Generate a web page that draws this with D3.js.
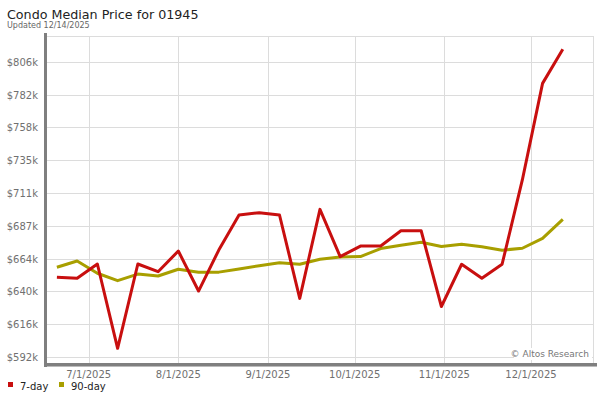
<!DOCTYPE html>
<html><head><meta charset="utf-8">
<script src="https://cdn.jsdelivr.net/npm/d3@7/dist/d3.min.js"></script>
<style>body{margin:0;background:#fff;}svg{display:block;font-family:"DejaVu Sans",Verdana,sans-serif;}</style>
</head><body><svg id="c" width="600" height="400"></svg>
<script>
const startDate = "2025-06-20";
const weeks = 26;
const sevenDay = [650.2,649.4,659.8,598.7,659.8,654.2,669.2,640.2,669.9,695.3,697.0,695.3,634.9,699.4,665.1,672.8,672.8,683.9,683.9,629.0,659.6,649.4,659.6,720.7,790.7,815.4];
const ninetyDay = [657.4,662.0,653.1,647.7,652.5,651.1,656.0,653.8,653.9,656.2,658.6,660.7,659.6,663.2,664.9,665.2,671.0,673.4,675.5,672.5,674.1,672.3,669.8,671.2,678.4,692.2];
const yTickValues = [592.4,616.2,640.0,663.7,687.5,711.3,735.1,758.9,782.6,806.4];
const yTickLabels = ["$592k","$616k","$640k","$664k","$687k","$711k","$735k","$758k","$782k","$806k"];
const xTickDates = ["2025-07-01","2025-08-01","2025-09-01","2025-10-01","2025-11-01","2025-12-01"];
const xTickLabels = ["7/1/2025","8/1/2025","9/1/2025","10/1/2025","11/1/2025","12/1/2025"];
const seriesNames = ["7-day","90-day"];
const seriesColors = ["#c80f0f","#a89f00"];

const parse = d3.utcParse("%Y-%m-%d");
const d0 = parse(startDate);
const dates = d3.range(weeks).map(i => d3.utcDay.offset(d0, 7*i));

const svg = d3.select("#c");
const L = 46, R = 593, T = 36, B = 364;
const x = d3.scaleUtc().domain([parse("2025-07-01"), parse("2025-12-01")]).range([88.7, 531]);
const y = d3.scaleLinear().domain([592.4, 806.4]).range([357, 61.7]);

// grid
const g = svg.append("g");
g.selectAll("line.hy").data(yTickValues).join("line")
  .attr("x1", L).attr("x2", R).attr("y1", d => Math.round(y(d))+0.5).attr("y2", d => Math.round(y(d))+0.5)
  .attr("stroke", "#dcdcdc").attr("stroke-width", 1);
g.selectAll("line.vx").data(xTickDates).join("line")
  .attr("x1", d => Math.round(x(parse(d)))+0.5).attr("x2", d => Math.round(x(parse(d)))+0.5)
  .attr("y1", T).attr("y2", B).attr("stroke", "#dcdcdc").attr("stroke-width", 1);
g.append("line").attr("x1", L).attr("x2", R+0.5).attr("y1", T+0.5).attr("y2", T+0.5).attr("stroke", "#dcdcdc");
g.append("line").attr("x1", R+0.5).attr("x2", R+0.5).attr("y1", T).attr("y2", B).attr("stroke", "#dcdcdc");

// y labels
svg.append("g").selectAll("text").data(yTickValues).join("text")
  .attr("x", 38).attr("y", d => y(d) + 4).attr("text-anchor", "end")
  .attr("font-size", 10).attr("fill", "#707070").text((d,i) => yTickLabels[i]);
// x labels
svg.append("g").selectAll("text").data(xTickDates).join("text")
  .attr("x", d => x(parse(d))).attr("y", 378).attr("text-anchor", "middle")
  .attr("font-size", 10).attr("fill", "#707070").text((d,i) => xTickLabels[i]);

// watermark
const wm = svg.append("g");
wm.append("rect").attr("x", 514).attr("y", 348).attr("width", 78).attr("height", 12).attr("fill", "#fff");
wm.append("text").attr("x", 589).attr("y", 357).attr("text-anchor", "end")
  .attr("font-size", 9).attr("fill", "#777").text("© Altos Research");

// lines
const line = d3.line().x((d,i) => x(dates[i])).y(d => y(d));
[[ninetyDay, 1], [sevenDay, 0]].forEach(([s, idx]) => {
  svg.append("path").datum(s).attr("d", line).attr("fill", "none")
    .attr("stroke", seriesColors[idx]).attr("stroke-width", 3).attr("stroke-linejoin", "round");
});

// axes
svg.append("rect").attr("x", 44).attr("y", 33).attr("width", 3).attr("height", 334).attr("fill", "#7f7f7f");
svg.append("rect").attr("x", 44).attr("y", 363).attr("width", 553).attr("height", 3).attr("fill", "#7f7f7f");
svg.append("rect").attr("x", 47).attr("y", 366).attr("width", 550).attr("height", 1).attr("fill", "#bbbbbb");

// title
svg.append("text").attr("x", 7).attr("y", 19).attr("font-size", 12.7).attr("fill", "#222").text("Condo Median Price for 01945");
svg.append("text").attr("x", 7).attr("y", 28).attr("font-size", 8).attr("fill", "#666").text("Updated 12/14/2025");

// legend
const lg = svg.append("g");
const lx = [8, 59];
seriesNames.forEach((n, i) => {
  lg.append("rect").attr("x", lx[i]).attr("y", 382).attr("width", 5).attr("height", 5).attr("fill", seriesColors[i]);
  lg.append("text").attr("x", lx[i] + 12).attr("y", 390).attr("font-size", 10).attr("fill", "#222").text(n);
});
</script></body></html>
